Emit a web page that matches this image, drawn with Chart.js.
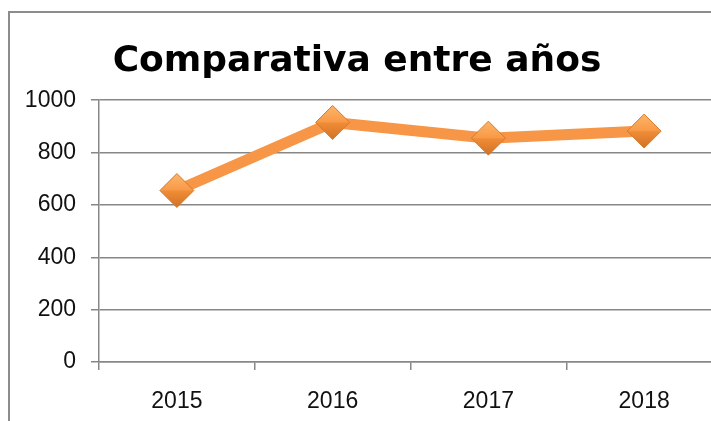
<!DOCTYPE html>
<html>
<head>
<meta charset="utf-8">
<script src="https://cdn.jsdelivr.net/npm/chart.js@4/dist/chart.umd.min.js"></script>
<style>
  html, body { margin: 0; padding: 0; background: #fff; overflow: hidden; width: 711px; height: 421px; }
  #frame { position: absolute; left: 8px; top: 11px; width: 1000px; height: 1000px;
           border-left: 2px solid #8c8c8c; border-top: 2px solid #8c8c8c; }
  #lineChart { position: absolute; left: 0; top: 0; }
</style>
</head>
<body>
<div id="frame"></div>
<canvas id="lineChart" width="740" height="421"></canvas>
<script>
const years = ['2015', '2016', '2017', '2018'];
const values = [655, 915, 855, 882];
const yTicks = [0, 200, 400, 600, 800, 1000];

const orange = '#f79646';
const gridGray = '#878787';

// shaded diamond fill, like the bevelled office marker
function diamondFill(context) {
    const chart = context.chart;
    const i = context.dataIndex;
    if (i === undefined || !chart.scales.y) return orange;
    const y = chart.scales.y.getPixelForValue(values[i]);
    if (!isFinite(y)) return orange;
    const g = chart.ctx.createLinearGradient(0, y - 17, 0, y + 17);
    g.addColorStop(0, '#fdb56a');
    g.addColorStop(0.48, '#f89a48');
    g.addColorStop(0.52, '#f08c36');
    g.addColorStop(1, '#cf7125');
    return g;
}

// move the title so it is centred like the original
const titleShift = {
    id: 'titleShift',
    afterLayout(chart) {
        if (chart.titleBlock) chart.titleBlock.right = 714;
    }
};

const ctx = document.getElementById('lineChart').getContext('2d');

const lineChart = new Chart(ctx, {
    type: 'line',
    data: {
        labels: years,
        datasets: [{
            label: 'Comparativa',
            data: values,
            fill: false,
            borderColor: orange,
            borderWidth: 11,
            tension: 0,
            pointStyle: 'rectRot',
            pointRadius: 17,
            pointHoverRadius: 17,
            pointBackgroundColor: diamondFill,
            pointBorderColor: '#d47a2c',
            pointBorderWidth: 1
        }]
    },
    plugins: [titleShift],
    options: {
        responsive: false,
        animation: false,
        devicePixelRatio: 1,
        layout: { padding: { left: 0, right: 17, top: 0, bottom: 0 } },
        plugins: {
            legend: { display: false },
            tooltip: { enabled: false },
            title: {
                display: true,
                text: 'Comparativa entre años',
                color: '#000',
                font: { family: 'DejaVu Sans', size: 36, weight: 'bold' },
                padding: { top: 40, bottom: 17 }
            }
        },
        scales: {
            x: {
                offset: true,
                afterFit: (s) => { s.height = 59; },
                grid: {
                    offset: true,
                    drawOnChartArea: false,
                    drawTicks: true,
                    tickLength: 8,
                    color: gridGray,
                    lineWidth: 1.5
                },
                border: { display: true, color: gridGray, width: 1.5 },
                ticks: {
                    color: '#111',
                    padding: 18,
                    font: { family: 'Liberation Sans', size: 23 }
                }
            },
            y: {
                min: 0,
                max: 1000,
                afterFit: (s) => { s.width = 99; },
                afterBuildTicks: (s) => { s.ticks = yTicks.map(v => ({ value: v })); },
                grid: {
                    color: gridGray,
                    lineWidth: 1.5,
                    drawTicks: true,
                    tickLength: 8
                },
                border: { display: true, color: gridGray, width: 1.5 },
                ticks: {
                    color: '#111',
                    padding: 15,
                    callback: (v) => String(v),
                    font: { family: 'Liberation Sans', size: 23 }
                }
            }
        }
    }
});
</script>
</body>
</html>
